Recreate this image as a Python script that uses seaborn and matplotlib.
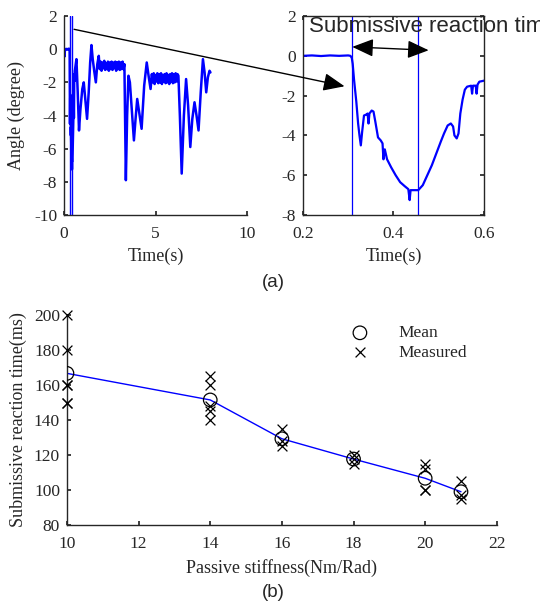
import numpy as np
import pandas as pd
import matplotlib
matplotlib.use("Agg")
import matplotlib.pyplot as plt
import seaborn as sns
from matplotlib.patches import ConnectionPatch

sns.set_theme(style="ticks")
plt.rcParams.update({
    "font.family": ["Liberation Serif", "DejaVu Serif"],
    "axes.edgecolor": "#262626",
    "xtick.color": "#262626",
    "ytick.color": "#262626",
    "xtick.direction": "in",
    "ytick.direction": "in",
    "axes.linewidth": 1.0,
    "axes.unicode_minus": False,
})

# ---- datos (a): angulo vs tiempo ----
time_s = [0.00, 0.02, 0.03, 0.05, 0.08, 0.12, 0.16, 0.20, 0.22, 0.24, 0.26, 0.28, 0.30,
          0.305, 0.308, 0.310, 0.313, 0.318, 0.322, 0.325, 0.328, 0.331, 0.335, 0.340,
          0.343, 0.345, 0.347, 0.352, 0.356, 0.360, 0.366, 0.372, 0.376, 0.378, 0.381,
          0.386, 0.395, 0.405, 0.415, 0.425, 0.433, 0.436, 0.438, 0.445, 0.455, 0.465,
          0.475, 0.485, 0.495, 0.505, 0.512, 0.520, 0.527, 0.532, 0.535, 0.540, 0.544,
          0.548, 0.553, 0.558, 0.563, 0.572, 0.574, 0.576, 0.582, 0.584, 0.586, 0.590,
          0.600, 0.63, 0.68, 0.75, 0.82, 0.90, 1.00, 1.08, 1.17, 1.26, 1.35, 1.43, 1.50,
          1.57, 1.65, 1.74, 1.82, 1.90,
          1.95, 2.00, 2.05, 2.10, 2.15, 2.20, 2.25, 2.30, 2.35, 2.40, 2.45, 2.50, 2.55,
          2.60, 2.65, 2.70, 2.75, 2.80, 2.85, 2.90, 2.95, 3.00, 3.05, 3.10, 3.15, 3.20,
          3.25, 3.30,
          3.34, 3.38, 3.45, 3.52, 3.60, 3.70, 3.82, 3.91, 4.00, 4.12, 4.24, 4.38, 4.52,
          4.62, 4.73,
          4.80, 4.85, 4.90, 4.95, 5.00, 5.05, 5.10, 5.15, 5.20, 5.25, 5.30, 5.35, 5.40,
          5.45, 5.50, 5.55, 5.60, 5.65, 5.70, 5.75, 5.80, 5.85, 5.90, 5.95, 6.00, 6.05,
          6.10, 6.15, 6.20, 6.25,
          6.33, 6.43, 6.55, 6.67, 6.78, 6.90, 7.01, 7.13, 7.24, 7.35, 7.47, 7.59, 7.68,
          7.77, 7.86, 7.95, 8.00]
angle_deg = [-0.10, -0.45, -0.40, -0.05, 0.00, 0.02, -0.02, 0.00, 0.02, -0.01, 0.02, 0.00, 0.02,
             0.00, -0.10, -0.40, -1.20, -2.30, -3.40, -4.00, -4.50, -3.80, -3.00, -2.95,
             -2.90, -3.40, -2.90, -2.75, -2.80, -3.30, -4.10, -4.25, -4.40, -5.20, -4.70,
             -5.20, -5.60, -6.00, -6.35, -6.55, -6.70, -7.25, -6.75, -6.75, -6.75, -6.50,
             -6.00, -5.50, -4.90, -4.30, -3.90, -3.50, -3.40, -3.55, -4.00, -4.15, -3.90,
             -2.90, -2.20, -1.70, -1.55, -1.50, -1.90, -1.50, -1.50, -1.90, -1.45, -1.30,
             -1.25, -1.00, -0.60, -2.60, -4.90, -3.60, -2.40, -2.00, -3.10, -4.20, -2.60, -0.80, 0.25,
             -0.60, -1.30, -2.00, -0.90, -0.40,
             -1.20, -0.75, -1.30, -0.80, -1.15, -0.70, -1.25, -0.85, -1.20, -0.75, -1.30, -0.80, -1.20,
             -0.75, -1.25, -0.80, -1.15, -0.75, -1.30, -0.80, -1.20, -0.75, -1.25, -0.80, -1.20, -0.75,
             -1.20, -0.90,
             -4.50, -7.90, -4.00, -1.60, -2.00, -3.60, -5.50, -4.20, -3.00, -3.90, -4.80, -2.20, -0.80,
             -1.60, -2.40,
             -1.50, -2.00, -1.45, -2.10, -1.55, -1.95, -1.45, -2.05, -1.50, -2.00, -1.45, -2.10, -1.55,
             -1.95, -1.50, -2.05, -1.45, -2.00, -1.55, -2.10, -1.50, -1.95, -1.45, -2.05, -1.50, -2.00,
             -1.45, -1.95, -1.50, -1.60,
             -4.00, -7.50, -4.00, -1.80, -3.40, -5.90, -4.20, -3.20, -4.00, -4.90, -2.60, -0.60, -1.40,
             -2.60, -1.70, -1.30, -1.40]
reaction_marks = [0.3085, 0.4554]

# ---- datos (b): tiempo de reaccion vs rigidez ----
stiffness_mean = [10, 14, 16, 18, 20, 21]
reaction_mean = [166.7, 151.5, 129.3, 117.7, 106.7, 99.0]
stiffness_meas = [10, 10, 10, 10, 10, 10,
                  14, 14, 14, 14, 14,
                  16, 16, 16,
                  18, 18, 18,
                  20, 20, 20, 20,
                  21, 21, 21]
reaction_meas = [200, 180, 160, 160, 150, 150,
                 165, 160, 148, 145, 140,
                 135, 128, 125,
                 120, 115, 118,
                 115, 112, 100, 100,
                 105, 97, 95]

signal = pd.DataFrame({"t": time_s, "angle": angle_deg})
means = pd.DataFrame({"k": stiffness_mean, "rt": reaction_mean})
meas = pd.DataFrame({"k": stiffness_meas, "rt": reaction_meas})

fig = plt.figure(figsize=(5.4, 6.03), dpi=100)
ax1 = fig.add_axes([0.1185, 0.6434, 0.339, 0.330])
ax2 = fig.add_axes([0.561, 0.6434, 0.335, 0.330])
ax3 = fig.add_axes([0.124, 0.1294, 0.796, 0.348])

blue = "#0000ff"
fs = 12.5
sans = ["Liberation Sans", "DejaVu Sans"]

# --- (a) izquierda ---
sns.lineplot(data=signal, x="t", y="angle", sort=False, estimator=None,
             color=blue, lw=1.8, ax=ax1)
for xv in reaction_marks:
    ax1.axvline(xv, color=blue, lw=1.0)
ax1.set_xlim(0, 10)
ax1.set_ylim(-10, 2)
ax1.set_xticks([0, 5, 10])
ax1.set_yticks(range(-10, 3, 2))
sns.despine(ax=ax1)
ax1.set_xlabel("Time(s)", fontsize=fs + 0.5, labelpad=4)
ax1.set_ylabel("Angle (degree)", fontsize=fs + 0.5)
ax1.yaxis.set_label_coords(-0.213, 0.5)

# --- (a) derecha ---
sns.lineplot(data=signal, x="t", y="angle", sort=False, estimator=None,
             color=blue, lw=1.6, ax=ax2)
for xv in reaction_marks:
    ax2.axvline(xv, color=blue, lw=0.9)
ax2.set_xlim(0.2, 0.6)
ax2.set_ylim(-8, 2)
ax2.set_xticks([0.2, 0.4, 0.6])
ax2.set_yticks(range(-8, 3, 2))
ax2.tick_params(top=True, right=True)
ax2.set_xlabel("Time(s)", fontsize=fs + 0.5, labelpad=4)
ax2.set_ylabel("")

ax2.text(0.213, 1.45, "Submissive reaction time", fontsize=16,
         family=sans, va="center", ha="left", clip_on=False)
ax2.annotate("", xy=(0.478, 0.28), xytext=(0.309, 0.45),
             arrowprops=dict(arrowstyle="<|-|>,head_length=1.3,head_width=0.55",
                             mutation_scale=10, color="black", lw=1.0,
                             shrinkA=0, shrinkB=0))

con = ConnectionPatch(xyA=(0.55, 1.2), coordsA=ax1.transData,
                      xyB=(0.292, -1.53), coordsB=ax2.transData,
                      arrowstyle="-|>,head_length=1.3,head_width=0.55",
                      mutation_scale=10, color="black", lw=1.0,
                      shrinkA=0, shrinkB=0)
fig.add_artist(con)

for ax in (ax1, ax2):
    ax.tick_params(labelsize=fs, length=3)
    ax.tick_params(axis="x", pad=8)
    ax.tick_params(axis="y", pad=5)

fig.text(0.5056, 0.532, "(a)", fontsize=fs + 1, ha="center", va="center", family=sans)

# --- (b) ---
sns.lineplot(data=means, x="k", y="rt", color=blue, lw=1.0, ax=ax3)
sns.scatterplot(data=means, x="k", y="rt", marker="o", s=95, facecolor="none",
                edgecolor="black", linewidth=0.9, label="Mean", ax=ax3, zorder=3)
sns.scatterplot(data=meas, x="k", y="rt", marker="x", s=50, color="black",
                linewidth=0.9, label="Measured", ax=ax3, zorder=3, clip_on=False)
ax3.set_xlim(10, 22)
ax3.set_ylim(80, 200)
ax3.set_xticks(range(10, 23, 2))
ax3.set_yticks(range(80, 201, 20))
sns.despine(ax=ax3)
ax3.tick_params(labelsize=fs, length=3)
ax3.tick_params(axis="x", pad=8)
ax3.tick_params(axis="y", pad=5)
ax3.set_xlabel("Passive stiffness(Nm/Rad)", fontsize=fs + 0.5, labelpad=5)
ax3.set_ylabel("Submissive reaction time(ms)", fontsize=fs + 0.5)
ax3.yaxis.set_label_coords(-0.093, 0.5)
ax3.legend(loc="upper left", bbox_to_anchor=(0.625, 0.985), frameon=False,
           fontsize=fs, handletextpad=1.2, labelspacing=0.2, borderaxespad=0)

fig.text(0.5056, 0.0166, "(b)", fontsize=fs + 1, ha="center", va="center", family=sans)

fig.savefig("out.png", dpi=100)
